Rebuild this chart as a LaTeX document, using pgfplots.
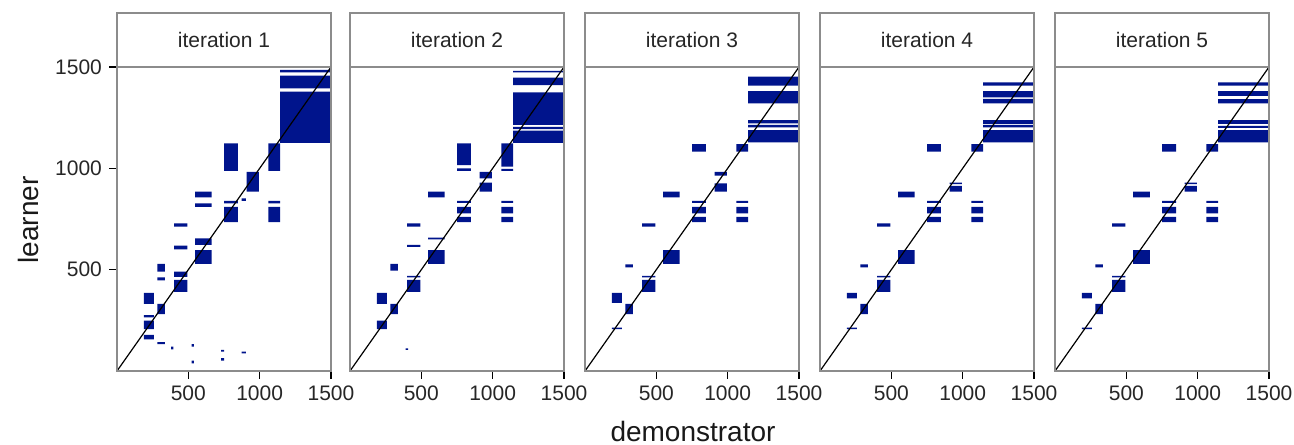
\documentclass[border=0pt]{standalone}
\usepackage{fontspec}
\setmainfont{Liberation Sans}
\usepackage{pgfplots}
\pgfplotsset{compat=1.18}
\definecolor{tilenavy}{RGB}{0,20,140}
\definecolor{framegray}{RGB}{140,140,140}

% tiles: xmin/xmax/ymin/ymax (demonstrator x learner)
\def\tilesA{1143/1495/1474/1486, 1143/1495/1395/1457, 1143/1495/1126/1378,
  750/848/987/1123, 1061/1143/987/1123, 909/995/885/983,
  547/664/857/885, 547/664/810/827, 873/904/840/852,
  750/848/827/839, 750/848/734/810, 1061/1143/827/839, 1061/1143/734/810,
  400/493/712/729, 547/664/622/655, 547/664/528/597, 400/493/600/618,
  283/336/490/528, 283/336/447/462, 400/493/465/490, 400/493/391/449,
  189/259/331/386, 283/336/281/331, 189/259/265/276, 189/259/207/248,
  189/259/156/178, 283/336/133/142,
  379/395/107/120, 523/539/120/133, 523/539/38/51, 729/750/95/104,
  729/750/51/63, 873/904/87/95}
\def\tilesB{1143/1495/1474/1481, 1143/1495/1411/1447, 1143/1495/1214/1375,
  1143/1495/1194/1205, 1143/1495/1126/1186,
  750/848/1016/1123, 750/848/988/1000, 1061/1143/1008/1123, 1061/1143/988/997,
  909/995/951/983, 909/995/885/929, 547/664/857/885,
  750/848/830/839, 750/848/778/810, 750/848/734/761,
  1061/1143/830/839, 1061/1143/778/810, 1061/1143/734/761,
  400/493/712/729, 400/493/613/622, 400/493/462/469, 400/493/391/449,
  547/664/650/658, 547/664/528/597, 283/336/495/528, 283/336/281/331,
  189/259/331/386, 189/259/207/248, 389/407/104/112}
\def\tilesC{1143/1495/1408/1452, 1143/1495/1321/1381, 1143/1495/1222/1238,
  1143/1495/1202/1214, 1143/1495/1128/1189,
  750/848/1082/1120, 1061/1143/1082/1120, 909/995/964/983, 909/995/885/926,
  547/664/857/885, 547/664/528/597,
  750/848/830/839, 750/848/778/810, 750/848/734/761,
  1061/1143/830/839, 1061/1143/778/810, 1061/1143/734/761,
  400/493/712/729, 400/493/462/469, 400/493/391/449,
  283/336/511/526, 283/336/281/331, 189/259/336/386, 189/259/207/214}
\def\tilesD{1143/1495/1408/1424, 1143/1495/1350/1381, 1143/1495/1321/1343,
  1143/1495/1219/1238, 1143/1495/1202/1214, 1143/1495/1128/1189,
  750/848/1082/1120, 1061/1143/1082/1120, 909/995/922/929, 909/995/885/914,
  547/664/857/885, 547/664/528/597,
  750/848/830/839, 750/848/778/810, 750/848/734/761,
  1061/1143/830/839, 1061/1143/778/810, 1061/1143/734/761,
  400/493/712/729, 400/493/462/469, 400/493/391/449,
  283/336/511/526, 283/336/281/331, 189/259/358/386, 189/259/207/214}
\def\tilesE{1143/1495/1408/1424, 1143/1495/1357/1381, 1143/1495/1321/1341,
  1143/1495/1219/1238, 1143/1495/1200/1210, 1143/1495/1128/1189,
  750/848/1082/1120, 1061/1143/1082/1120, 909/995/922/929, 909/995/885/914,
  547/664/857/885, 547/664/528/597,
  750/848/830/839, 750/848/778/810, 750/848/734/761,
  1061/1143/830/839, 1061/1143/778/810, 1061/1143/734/761,
  400/493/712/729, 400/493/462/469, 400/493/391/449,
  283/336/511/526, 283/336/281/331, 189/259/358/386, 189/259/207/214}

\newcommand\drawtiles[1]{%
  \gdef\tilepts{}%
  \foreach \pa/\pb/\pc/\pd in #1 {%
    \xdef\tilepts{\tilepts (\pa,\pc) (\pb,\pc) (\pb,\pd) (\pa,\pd) (nan,nan)}}%
  \edef\next{\noexpand\addplot[tile] coordinates {\tilepts};}\next}

\pgfplotsset{
  facet/.style={
    width=107pt, height=152pt, scale only axis,
    xmin=0, xmax=1500, ymin=0, ymax=1500,
    xtick={500,1000,1500}, ytick={500,1000,1500},
    tick pos=left, tick align=outside, major tick length=4pt,
    axis line style={framegray, line width=0.8pt},
    tick style={black, line width=0.8pt},
    ticklabel style={font=\fontsize{10.5}{12}\selectfont, text=black!85},
    /pgf/number format/assume math mode=true,
    /pgf/number format/1000 sep={},
    axis on top, clip mode=individual,
  },
  tile/.style={fill=tilenavy, draw=none, mark=none, unbounded coords=jump},
  noy/.style={ytick=\empty},
}
\newcommand\strip[1]{\node[draw=framegray, line width=0.8pt, fill=white,
  minimum width=107pt, minimum height=27pt, inner sep=0pt, outer sep=0pt,
  anchor=south, text=black!85, font=\fontsize{10.5}{12}\selectfont]
  at (rel axis cs:0.5,1) {#1};}

\begin{document}
\begin{tikzpicture}
\useasboundingbox (0,0) rectangle (647pt,222pt);

\begin{axis}[facet, at={(58.5pt,36.5pt)}]
\drawtiles{\tilesA}
\addplot[black, line width=0.6pt] coordinates {(0,0) (1500,1500)};
\strip{iteration 1}
\end{axis}

\begin{axis}[facet, noy, at={(175pt,36.5pt)}]
\drawtiles{\tilesB}
\addplot[black, line width=0.6pt] coordinates {(0,0) (1500,1500)};
\strip{iteration 2}
\end{axis}

\begin{axis}[facet, noy, at={(292.5pt,36.5pt)}]
\drawtiles{\tilesC}
\addplot[black, line width=0.6pt] coordinates {(0,0) (1500,1500)};
\strip{iteration 3}
\end{axis}

\begin{axis}[facet, noy, at={(410pt,36.5pt)}]
\drawtiles{\tilesD}
\addplot[black, line width=0.6pt] coordinates {(0,0) (1500,1500)};
\strip{iteration 4}
\end{axis}

\begin{axis}[facet, noy, at={(527.5pt,36.5pt)}]
\drawtiles{\tilesE}
\addplot[black, line width=0.6pt] coordinates {(0,0) (1500,1500)};
\strip{iteration 5}
\end{axis}

\node[rotate=90, anchor=base, font=\fontsize{14}{16}\selectfont, text=black!90]
  at (19pt,112pt) {learner};
\node[anchor=base, font=\fontsize{14}{16}\selectfont, text=black!90]
  at (346.5pt,1.5pt) {demonstrator};
\end{tikzpicture}
\end{document}
